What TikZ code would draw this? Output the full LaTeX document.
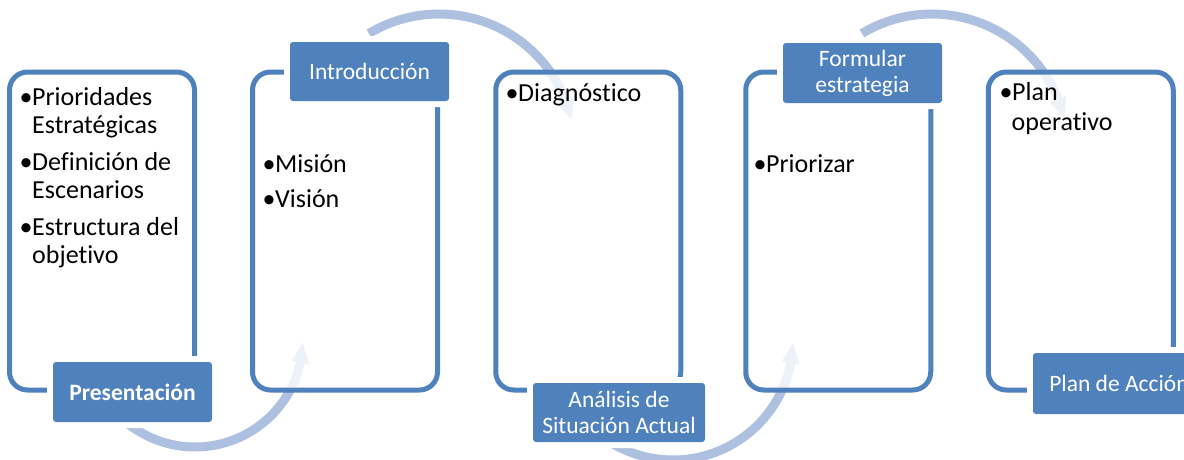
\documentclass[tikz,border=0pt]{standalone}
\usepackage{fontspec}
\setmainfont{Carlito}[Ligatures={NoCommon}]
\usetikzlibrary{calc}

\definecolor{accent}{RGB}{79,129,189}
\definecolor{flowarrow}{RGB}{173,192,223}

\tikzset{
  panel/.style={draw=accent, line width=5pt, rounded corners=18pt,
    fill=white, fill opacity=0.8, minimum width=185pt, minimum height=318pt,
    inner sep=0pt},
  tag/.style={fill=accent, text=white, rounded corners=3pt, inner sep=0pt,
    align=center, font=\fontsize{23.5}{26}\selectfont,
    preaction={draw=white, line width=12pt}},
  item/.style={anchor=base west, inner sep=0pt,
    font=\fontsize{26}{28.5}\selectfont},
}

% bent arrow along a circle: centre x, centre y, radius,
% tail angle, angle of the head base, angle of the tip
\newcommand{\flowarc}[6]{%
  \fill[flowarrow]
    plot[domain=#4:#5, samples=60] ({#1+(#3+4.5)*cos(\x)}, {#2+(#3+4.5)*sin(\x)})
    -- ({#1+(#3+9)*cos(#5)}, {#2+(#3+9)*sin(#5)})
    -- ({#1+#3*cos(#6)}, {#2+#3*sin(#6)})
    -- ({#1+(#3-9)*cos(#5)}, {#2+(#3-9)*sin(#5)})
    -- plot[domain=#5:#4, samples=60] ({#1+(#3-4.5)*cos(\x)}, {#2+(#3-4.5)*sin(\x)})
    -- cycle;}

\newcommand{\bul}{\makebox[12.5pt][l]{•}}

\begin{document}
\begin{tikzpicture}[x=1pt, y=-1pt]
\useasboundingbox (0,0) rectangle (1184,459);
\clip (0,0) rectangle (1184,459);
\fill[white] (0,0) rectangle (1184,459);

% curved arrows leading from one step to the next
\flowarc{195}{339}{108}{135}{12.6}{2}
\flowarc{439}{150}{136}{-121}{-21.4}{-13}
\flowarc{673}{340}{120}{125}{11}{1.5}
\flowarc{932}{150}{136}{-121}{-22}{-13.5}

% step panels
\node[panel] (p1) at (102,231) {};
\node[panel] (p2) at (345,231) {};
\node[panel] (p3) at (588.25,231) {};
\node[panel] (p4) at (838.25,231) {};
\node[panel] (p5) at (1080.75,231) {};

% bullet items
\node[item] (t1a) at (19.5,105) {\bul Prioridades};
\node[item] (t1b) at (32,133) {Estratégicas};
\node[item] (t1c) at (19.5,170) {\bul Definición de};
\node[item] (t1d) at (32,198) {Escenarios};
\node[item] (t1e) at (19.5,235) {\bul Estructura del};
\node[item] (t1f) at (32,263) {objetivo};

\node[item] (t2a) at (262.5,172) {\bul Misión};
\node[item] (t2b) at (262.5,207) {\bul Visión};

\node[item] (t3a) at (505.5,101.5) {\bul Diagnóstico};

\node[item] (t4a) at (753.5,172) {\bul Priorizar};

\node[item] (t5a) at (999.5,100) {\bul Plan};
\node[item] (t5b) at (1011.5,130) {operativo};

% step titles
\node[tag, minimum width=159pt, minimum height=60pt] (l1) at (132.5,392) {\bfseries Presentación};
\node[tag, minimum width=159pt, minimum height=59pt] (l2) at (369.5,71.5) {Introducción};
\node[tag, minimum width=172pt, minimum height=59pt] (l3) at (619,412.5) {Análisis de\\Situación Actual};
\node[tag, minimum width=159pt, minimum height=60pt] (l4) at (862.5,73) {Formular\\estrategia};
\node[tag, minimum width=172pt, minimum height=61pt] (l5) at (1119,383.5) {Plan de Acción};
\end{tikzpicture}
\end{document}
